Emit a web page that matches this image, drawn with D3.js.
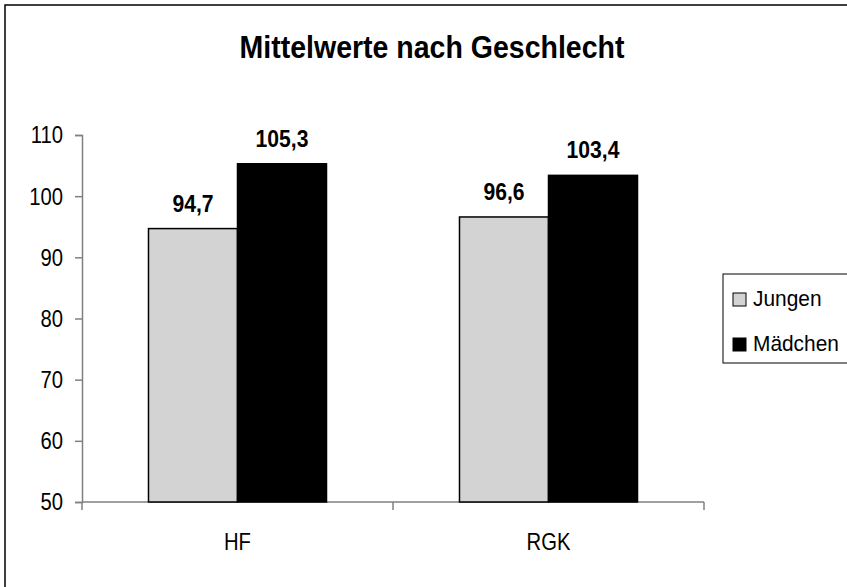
<!DOCTYPE html>
<html>
<head>
<meta charset="utf-8">
<script src="https://cdn.jsdelivr.net/npm/d3@7"></script>
<style>
  body { margin: 0; background: #fff; }
  text { font-family: "Liberation Sans", Arial, sans-serif; fill: #000; }
</style>
</head>
<body>
<div id="chart"></div>
<script>
const categories = ["HF", "RGK"];
const seriesNames = ["Jungen", "Mädchen"];
const jungen = [94.7, 96.6];
const maedchen = [105.3, 103.4];
const yTicks = [50, 60, 70, 80, 90, 100, 110];
const colors = ["#d3d3d3", "#000000"];

const W = 847, H = 587;
const svg = d3.select("#chart").append("svg")
    .attr("width", W)
    .attr("height", H);

// outer frame (right and bottom edges run off the picture)
svg.append("rect")
    .attr("x", 5).attr("y", 5)
    .attr("width", W + 20).attr("height", H + 20)
    .attr("fill", "#fff")
    .attr("stroke", "#000")
    .attr("stroke-width", 1.5);

const plot = { left: 82, right: 704, top: 135, bottom: 502 };
const sx = 0.88; // glyphs in the reference are a bit narrow

const x0 = d3.scaleBand()
    .domain(categories)
    .range([plot.left, plot.right])
    .padding(0);

const x1 = d3.scaleBand()
    .domain(seriesNames)
    .range([0, x0.bandwidth()])
    .paddingInner(0)
    .paddingOuter(0.747);

const y = d3.scaleLinear()
    .domain([50, 110])
    .range([plot.bottom, plot.top]);

const data = categories.map((c, i) => ({
    cat: c,
    values: [
        { name: seriesNames[0], value: jungen[i] },
        { name: seriesNames[1], value: maedchen[i] }
    ]
}));

function squeezeText(sel, size, weight, scaleX) {
    sel.style("font-size", size + "px")
        .style("font-weight", weight)
        .attr("transform", function() {
            const t = d3.select(this);
            const tx = +t.attr("x") || 0;
            const ty = +t.attr("y") || 0;
            t.attr("x", 0).attr("y", 0);
            return `translate(${tx},${ty}) scale(${scaleX},1)`;
        });
}

// y axis
const yAxis = svg.append("g")
    .attr("transform", `translate(${plot.left},0)`)
    .call(d3.axisLeft(y).tickValues(yTicks).tickSize(7).tickPadding(12));
yAxis.select(".domain").attr("stroke", "#808080").attr("stroke-width", 1.5);
yAxis.selectAll(".tick line").attr("stroke", "#808080").attr("stroke-width", 1.5);
yAxis.selectAll(".tick text")
    .attr("dy", null)
    .attr("dominant-baseline", "central")
    .call(squeezeText, 23, "normal", sx);

// x axis
const xAxis = svg.append("g")
    .attr("transform", `translate(0,${plot.bottom})`)
    .call(d3.axisBottom(x0).tickSize(0).tickPadding(0));
xAxis.select(".domain").remove();
xAxis.selectAll(".tick text").remove();
xAxis.append("line")
    .attr("x1", plot.left).attr("x2", plot.right)
    .attr("stroke", "#808080").attr("stroke-width", 1.5);
const xBounds = [plot.left, ...categories.map(c => x0(c) + x0.bandwidth())];
xAxis.selectAll(".xtick")
    .data(xBounds)
    .join("line")
    .attr("x1", d => d).attr("x2", d => d)
    .attr("y1", 0).attr("y2", 8)
    .attr("stroke", "#808080").attr("stroke-width", 1.5);
xAxis.selectAll(".cat-label")
    .data(categories)
    .join("text")
    .attr("class", "cat-label")
    .attr("x", d => x0(d) + x0.bandwidth() / 2)
    .attr("y", 48)
    .attr("text-anchor", "middle")
    .text(d => d)
    .call(squeezeText, 23, "normal", sx);

// bars
const groups = svg.selectAll(".group")
    .data(data)
    .join("g")
    .attr("class", "group")
    .attr("transform", d => `translate(${x0(d.cat)},0)`);

groups.selectAll("rect")
    .data(d => d.values)
    .join("rect")
    .attr("x", d => x1(d.name))
    .attr("y", d => y(d.value))
    .attr("width", x1.bandwidth())
    .attr("height", d => y(50) - y(d.value))
    .attr("fill", (d, i) => colors[i])
    .attr("stroke", "#000")
    .attr("stroke-width", 1.5);

groups.selectAll(".val")
    .data(d => d.values)
    .join("text")
    .attr("class", "val")
    .attr("x", d => x1(d.name) + x1.bandwidth() / 2)
    .attr("y", d => y(d.value) - 17)
    .attr("text-anchor", "middle")
    .text(d => d3.format(".1f")(d.value).replace(".", ","))
    .call(squeezeText, 24, "bold", sx);

// title
svg.append("text")
    .attr("x", 432)
    .attr("y", 58)
    .attr("text-anchor", "middle")
    .text("Mittelwerte nach Geschlecht")
    .call(squeezeText, 31, "bold", 0.92);

// legend
const legend = svg.append("g").attr("transform", "translate(723,274)");
legend.append("rect")
    .attr("width", 160).attr("height", 89)
    .attr("fill", "#fff")
    .attr("stroke", "#000")
    .attr("stroke-width", 1);

const items = legend.selectAll(".item")
    .data(seriesNames)
    .join("g")
    .attr("class", "item")
    .attr("transform", (d, i) => `translate(0,${32 + i * 45})`);
items.append("rect")
    .attr("x", 10).attr("y", -13)
    .attr("width", 13).attr("height", 13)
    .attr("fill", (d, i) => colors[i])
    .attr("stroke", "#000")
    .attr("stroke-width", 1);
items.append("text")
    .attr("x", 30)
    .attr("y", 0)
    .text(d => d)
    .call(squeezeText, 22, "normal", 0.95);
</script>
</body>
</html>
